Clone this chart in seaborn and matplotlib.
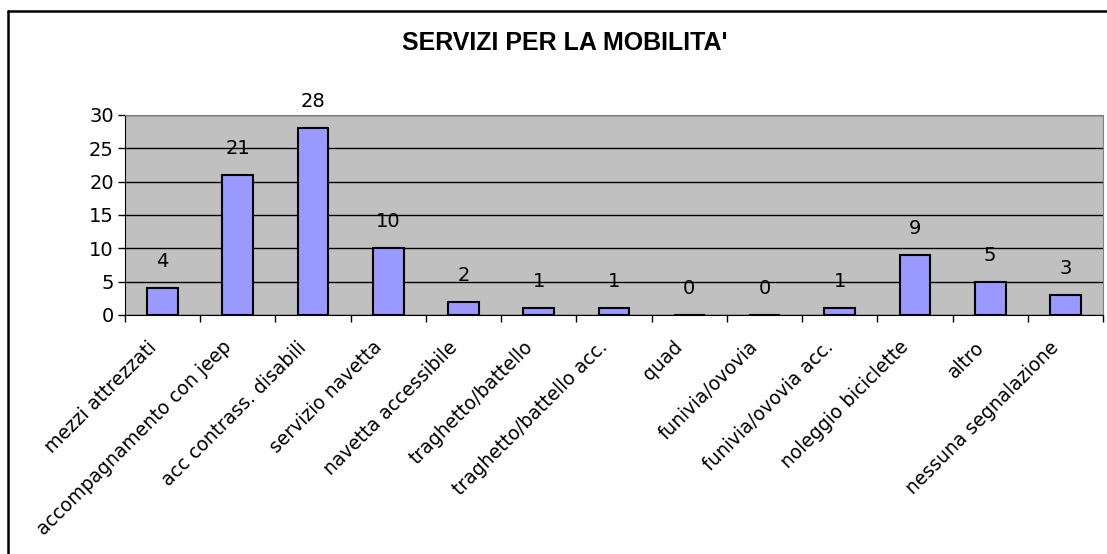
import matplotlib
matplotlib.use('Agg')
import matplotlib.pyplot as plt
from matplotlib.lines import Line2D
from matplotlib.ticker import FixedLocator
from matplotlib.transforms import ScaledTranslation
import seaborn as sns
import pandas as pd
import numpy as np

categories = ['mezzi attrezzati', 'accompagnamento con jeep', 'acc contrass. disabili',
              'servizio navetta', 'navetta accessibile', 'traghetto/battello',
              'traghetto/battello acc.', 'quad', 'funivia/ovovia', 'funivia/ovovia acc.',
              'noleggio biciclette', 'altro', 'nessuna segnalazione']
counts = [4, 21, 28, 10, 2, 1, 1, 0, 0, 1, 9, 5, 3]
y_ticks = [0, 5, 10, 15, 20, 25, 30]

sns.set_style('white')
plt.rcParams['font.family'] = ['DejaVu Sans']
plt.rcParams['text.color'] = 'black'
plt.rcParams['xtick.color'] = 'black'
plt.rcParams['ytick.color'] = 'black'

df = pd.DataFrame({'servizio': categories, 'n': counts})

W, H = 1107, 554
fig = plt.figure(figsize=(W / 100, H / 100), dpi=100)
ax = fig.add_axes([125 / W, 1 - 315 / H, 978 / W, 200 / H])

sns.barplot(data=df, x='servizio', y='n', color='#9999FF', saturation=1,
            edgecolor='black', linewidth=1.5, width=0.41, ax=ax, zorder=3)

ax.set_facecolor('#C0C0C0')
ax.set_ylim(0, 30)
ax.set_xlim(-0.5, len(categories) - 0.5)
ax.set_yticks(y_ticks)
ax.yaxis.grid(True, color='black', linewidth=1, zorder=1)
ax.set_axisbelow(True)
for s in ['top', 'right']:
    ax.spines[s].set_color('#808080')
for s in ['left', 'bottom']:
    ax.spines[s].set_color('black')

ax.tick_params(axis='y', length=5, width=1, labelsize=14, pad=3, left=True)
ax.set_xticks(range(len(categories)))
ax.set_xticklabels(categories, rotation=45, ha='right', rotation_mode='anchor', fontsize=13.5)
ax.tick_params(axis='x', which='major', length=0, pad=12)
ax.xaxis.set_minor_locator(FixedLocator(np.arange(-0.5, len(categories), 1)))
ax.tick_params(axis='x', which='minor', length=5, width=1, bottom=True)
ax.set_xlabel('')
ax.set_ylabel('')

# nudge the slanted labels a bit left and down
shift = ScaledTranslation(-16 / 100, -6 / 100, fig.dpi_scale_trans)
for lab in ax.get_xticklabels():
    lab.set_transform(lab.get_transform() + shift)

for i, v in enumerate(counts):
    ax.annotate(str(v), (i, v), xytext=(0, 19), textcoords='offset points',
                ha='center', va='center', fontsize=14)

fig.text(565 / W, 1 - 42.5 / H, "SERVIZI PER LA MOBILITA'", ha='center', va='center',
         fontsize=18, fontweight='bold', family='Liberation Sans')

# frame of the chart area (only top and left edges are visible)
fig.add_artist(Line2D([7.5 / W, 1], [1 - 10.5 / H, 1 - 10.5 / H], transform=fig.transFigure,
                      color='black', linewidth=1.8))
fig.add_artist(Line2D([7.5 / W, 7.5 / W], [0, 1 - 10.5 / H], transform=fig.transFigure,
                      color='black', linewidth=1.8))

fig.savefig('out.png', dpi=100)
